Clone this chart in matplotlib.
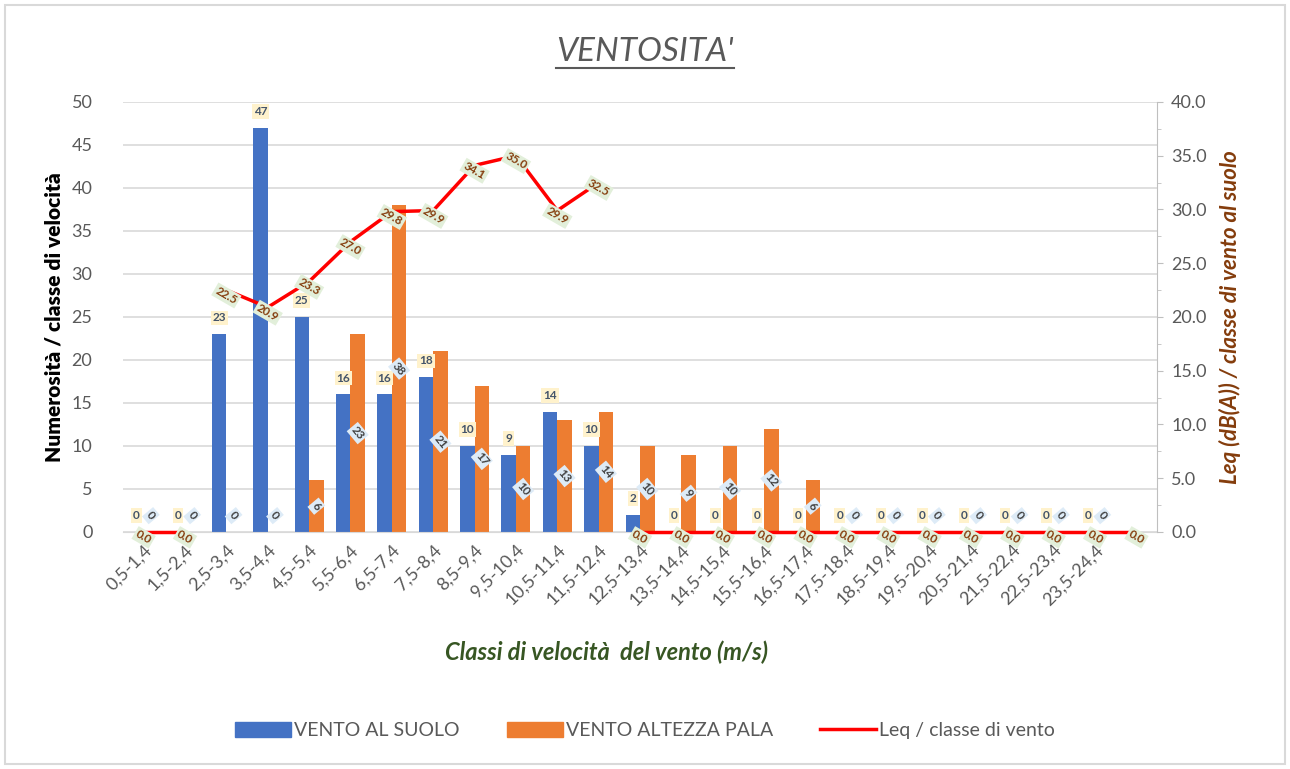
import numpy as np
import matplotlib.pyplot as plt
from matplotlib.lines import Line2D
from matplotlib.patches import Patch, Rectangle
from matplotlib.ticker import MultipleLocator

plt.rcParams['font.family'] = ['Lato', 'DejaVu Sans']

# dati
classi = ['0,5-1,4', '1,5-2,4', '2,5-3,4', '3,5-4,4', '4,5-5,4', '5,5-6,4',
          '6,5-7,4', '7,5-8,4', '8,5-9,4', '9,5-10,4', '10,5-11,4', '11,5-12,4',
          '12,5-13,4', '13,5-14,4', '14,5-15,4', '15,5-16,4', '16,5-17,4',
          '17,5-18,4', '18,5-19,4', '19,5-20,4', '20,5-21,4', '21,5-22,4',
          '22,5-23,4', '23,5-24,4', '']
vento_suolo = [0, 0, 23, 47, 25, 16, 16, 18, 10, 9, 14, 10, 2,
               0, 0, 0, 0, 0, 0, 0, 0, 0, 0, 0]
vento_pala = [0, 0, 0, 0, 6, 23, 38, 21, 17, 10, 13, 14, 10,
              9, 10, 12, 6, 0, 0, 0, 0, 0, 0, 0]
leq = [0.0, 0.0, 22.5, 20.9, 23.3, 27.0, 29.8, 29.9, 34.1, 35.0, 29.9, 32.5,
       0.0, 0.0, 0.0, 0.0, 0.0, 0.0, 0.0, 0.0, 0.0, 0.0, 0.0, 0.0, 0.0]
tratti_leq = [(0, 2), (2, 12), (12, 25)]  # pezzi di linea non collegati

blu = '#4472C4'
arancio = '#ED7D31'
rosso = '#FF0000'
grigio = '#595959'

fig = plt.figure(figsize=(12.9, 7.69), dpi=100)
ax = fig.add_axes([0.0953, 0.3082, 0.8017, 0.5592])
ax2 = ax.twinx()

x = np.arange(len(vento_suolo))
w = 0.35
ax.bar(x - w / 2, vento_suolo, w, color=blu, zorder=2)
ax.bar(x + w / 2, vento_pala, w, color=arancio, zorder=2)

# etichette barre
for i, v in enumerate(vento_suolo):
    ax.text(i - w / 2, v + 1.9, str(v), ha='center', va='center', fontsize=8.5,
            fontweight='bold', color='#44546A', zorder=5,
            bbox=dict(boxstyle='square,pad=0.15', fc='#FFF2CC', ec='none'))
for i, v in enumerate(vento_pala):
    ax.text(i + w / 2, max(v / 2, 1.9), str(v), ha='center', va='center',
            fontsize=8.5, fontweight='bold', color='#404040', rotation=-50,
            zorder=5,
            bbox=dict(boxstyle='square,pad=0.15', fc='#DDEBF7', ec='none'))

xl = np.arange(len(leq))
for a, b in tratti_leq:
    ax2.plot(xl[a:b], leq[a:b], color=rosso, lw=2.5, zorder=3, clip_on=False)
for i, v in enumerate(leq):
    ax2.text(i, v - 0.5, f'{v:.1f}', ha='center', va='center', fontsize=8.5,
             fontweight='bold', color='#843C0C', rotation=-30, zorder=6,
             bbox=dict(boxstyle='square,pad=0.15', fc='#E2EFDA', ec='none'))

ax.set_xlim(-0.5, 24.5)
ax.set_ylim(0, 50)
ax2.set_ylim(0, 40)
ax.yaxis.set_major_locator(MultipleLocator(5))
ax2.yaxis.set_major_locator(MultipleLocator(5))
ax2.yaxis.set_minor_locator(MultipleLocator(2.5))
ax2.yaxis.set_major_formatter(lambda v, p: f'{v:.1f}')

ax.set_xticks(xl)
ax.set_xticklabels(classi, rotation=45, ha='right', rotation_mode='anchor',
                   fontsize=13, color=grigio)
ax.tick_params(axis='x', length=0, pad=7)
ax.tick_params(axis='y', length=0, labelsize=13, labelcolor=grigio, pad=22)
ax2.tick_params(axis='y', which='major', length=4, color='#BFBFBF',
                labelsize=13, labelcolor=grigio, pad=6)
ax2.tick_params(axis='y', which='minor', length=3, color='#BFBFBF')

ax.grid(axis='y', color='#D9D9D9', lw=1.2, zorder=0)
ax.set_axisbelow(True)
for s in ['top', 'left', 'right']:
    ax.spines[s].set_visible(False)
    ax2.spines[s].set_visible(False)
ax2.spines['right'].set_visible(True)
ax2.spines['right'].set_color('#BFBFBF')
ax.spines['bottom'].set_color('#D9D9D9')
ax2.spines['bottom'].set_visible(False)

ax.set_ylabel('Numerosità / classe di velocità', fontsize=15,
              fontweight='heavy', color='black', labelpad=6)
ax2.set_ylabel('Leq (dB(A)) / classe di vento al suolo', fontsize=16,
               fontweight='bold', style='italic', color='#843C0C',
               labelpad=9)
fig.text(0.47, 0.152, 'Classi di velocità  del vento (m/s)', ha='center',
         va='center', fontsize=17, fontweight='bold', style='italic',
         color='#375623')

# titolo sottolineato
titolo = fig.text(0.5, 0.932, "VENTOSITA'", ha='center', va='center',
                  fontsize=24, style='italic', color=grigio)
fig.canvas.draw()
bb = titolo.get_window_extent(fig.canvas.get_renderer())
fig.add_artist(Line2D([bb.x0, bb.x1], [bb.y0 - 1, bb.y0 - 1],
                      transform=None, color=grigio, lw=1.5))

# legenda
maniglie = [Patch(color=blu), Patch(color=arancio),
            Line2D([0], [0], color=rosso, lw=2.5)]
fig.legend(maniglie, ['VENTO AL SUOLO', 'VENTO ALTEZZA PALA',
                      'Leq / classe di vento'],
           loc='center', bbox_to_anchor=(0.5, 0.05), ncol=3, frameon=False,
           fontsize=14, labelcolor=grigio, handlelength=2.9, handleheight=0.8,
           handletextpad=0.15, columnspacing=2.4)

# cornice
fig.add_artist(Rectangle((0.004, 0.007), 0.992, 0.986,
                         transform=fig.transFigure, fill=False,
                         ec='#D9D9D9', lw=1.5))

fig.savefig('out.png', dpi=100)
